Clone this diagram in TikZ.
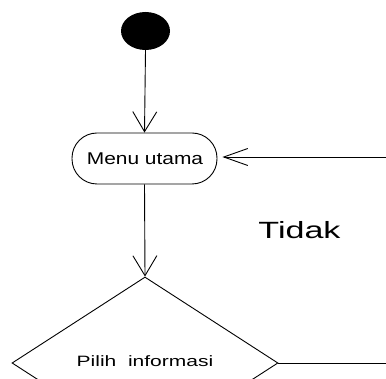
\documentclass[tikz,border=0pt]{standalone}
\usepackage{fontspec}
\setmainfont{Liberation Sans}
\usetikzlibrary{arrows.meta,shapes.geometric}
\begin{document}
\begin{tikzpicture}[x=1pt,y=-1pt,
  line/.style={draw=black,line width=0.9pt},
  arrV/.style={-{Straight Barb[length=20pt,width=24pt,line width=0.9pt]}},
  arrH/.style={-{Straight Barb[length=24pt,width=17pt,line width=0.9pt]}},
  lbl/.style={inner sep=0pt,text=black}]
\useasboundingbox (0,0) rectangle (386,379);
\node[ellipse,fill=black,minimum width=49pt,minimum height=38pt,inner sep=0pt] (start) at (145.5,31) {};
\node[line,rectangle,rounded corners=25pt,minimum width=145pt,minimum height=51pt,inner sep=0pt] (menu) at (144.5,158.5) {};
\node[lbl,font=\fontsize{17}{20}\selectfont] (menutxt) at (145,158.8) {\scalebox{1.23}[1]{Menu utama}};
\node[line,diamond,minimum width=266pt,minimum height=172pt,inner sep=0pt,aspect=1.547] (dia) at (145,363) {};
\node[lbl,font=\fontsize{15}{18}\selectfont] (diatxt) at (145,361.5) {\scalebox{1.4}[1]{Pilih\ \ informasi}};
\node[lbl,font=\fontsize{23.5}{28}\selectfont] (tidak) at (299.5,230.5) {\scalebox{1.45}[1]{Tidak}};
\coordinate (r1) at (386,157);
\coordinate (r2) at (386,363);
\draw[line,arrV] (start.south) -- (menu.north);
\draw[line,arrV] (menu.south) -- (dia.north);
\draw[line,arrH,shorten >=5pt] (r1) -- (menu.east |- r1);
\draw[line] (dia.east) -- (r2);
\end{tikzpicture}
\end{document}
